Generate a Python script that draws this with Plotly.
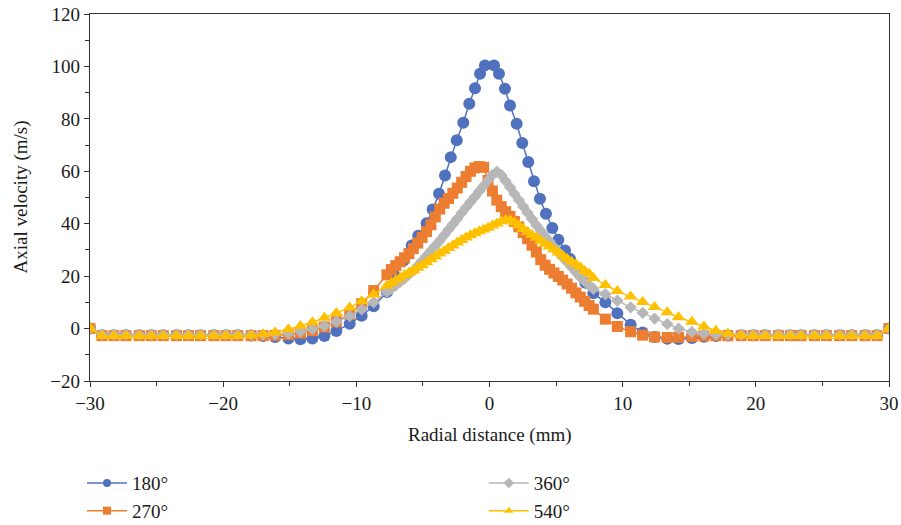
import plotly.graph_objects as go

# Radial sampling positions (mm)
x_tail_left = [-30, -29.1, -28.2, -27.3, -26.3, -25.4, -24.5, -23.5, -22.6, -21.7,
               -20.7, -19.8, -18.9, -17.9, -17.0, -16.1, -15.1, -14.2, -13.3, -12.4,
               -11.5, -10.5, -9.6, -8.7]
x_core = [-7.7, -7.37, -7.04, -6.71, -6.38, -6.05, -5.72, -5.39, -5.06, -4.73,
          -4.4, -4.07, -3.74, -3.41, -3.08, -2.75, -2.42, -2.09, -1.76, -1.43,
          -1.1, -0.77, -0.44, -0.11, 0.22, 0.55, 0.88, 1.21, 1.54, 1.87,
          2.2, 2.53, 2.86, 3.19, 3.52, 3.85, 4.18, 4.51, 4.84, 5.17,
          5.5, 5.83, 6.16, 6.49, 6.82, 7.15, 7.48]
x_tail_right = [7.8, 8.7, 9.6, 10.6, 11.5, 12.4, 13.35, 14.2, 15.2, 16.1,
                17.0, 17.9, 18.9, 19.8, 20.7, 21.7, 22.6, 23.4, 24.4, 25.3,
                26.3, 27.2, 28.2, 29.1, 30]
x_core_180 = [-7.7, -7.1, -6.45, -5.84, -5.35, -4.72, -4.27, -3.79, -3.34, -2.91,
              -2.46, -1.97, -1.52, -1.09, -0.71, -0.34, 0.34, 0.71, 1.16, 1.54,
              2.04, 2.46, 2.91, 3.34, 3.79, 4.24, 4.72, 5.17, 5.67, 6.04,
              6.6, 7.2]

# Axial velocity (m/s), 180°
v180_left = [0, -2.5, -2.5, -2.5, -2.5, -2.5, -2.5, -2.5, -2.5, -2.5,
             -2.5, -2.5, -2.5, -2.6, -2.8, -3.2, -3.8, -4.1, -3.8, -2.8,
             -0.9, 1.8, 4.9, 8.5]
v180_core = [13.9, 20.0, 26.0, 31.7, 35.4, 40.2, 45.4, 51.4, 58.4, 65.4,
             71.8, 78.5, 85.8, 91.7, 97.2, 100.4, 100.4, 97.2, 91.5, 85.1,
             78.1, 70.8, 63.5, 56.2, 49.5, 43.8, 38.4, 33.9, 29.8, 26.6,
             22.0, 17.5]
v180_right = [13.5, 10.0, 5.8, 1.5, -1.5, -3.2, -3.9, -4.0, -3.6, -3.1,
              -2.8, -2.6, -2.5, -2.5, -2.5, -2.5, -2.5, -2.5, -2.5, -2.5,
              -2.5, -2.5, -2.5, -2.5, 0]

# 270°
v270_left = [0, -2.7, -2.7, -2.7, -2.7, -2.7, -2.7, -2.7, -2.7, -2.7,
             -2.7, -2.7, -2.7, -2.7, -2.7, -2.6, -2.3, -1.7, -0.8, 0.6,
             2.6, 5.5, 9.5, 14.5]
v270_core = [20.5, 22.5, 24.0, 25.5, 27.0, 28.6, 30.5, 32.6, 34.8, 37.0,
             39.6, 42.6, 45.6, 47.8, 49.6, 51.6, 53.6, 55.8, 58.0, 60.0,
             61.3, 61.8, 61.5, 56.5, 52.5, 49.0, 46.5, 44.6, 42.8, 40.9,
             38.8, 36.6, 34.3, 31.8, 29.2, 26.3, 24.2, 22.6, 21.2, 19.9,
             18.5, 17.0, 15.4, 13.6, 12.0, 10.4, 8.8]
v270_right = [7.4, 3.6, 0.8, -1.2, -2.5, -3.2, -3.4, -3.3, -3.0, -2.8,
              -2.7, -2.7, -2.7, -2.7, -2.7, -2.7, -2.7, -2.7, -2.7, -2.7,
              -2.7, -2.7, -2.7, -2.7, 0]

# 360°
v360_left = [0, -2.3, -2.3, -2.3, -2.3, -2.3, -2.3, -2.3, -2.3, -2.3,
             -2.3, -2.3, -2.3, -2.3, -2.3, -2.2, -1.8, -1.1, -0.2, 1.0,
             2.6, 4.8, 7.3, 10.0]
v360_core = [14.0, 15.2, 16.5, 17.8, 19.1, 20.6, 22.1, 24.0, 25.9, 27.8,
             29.7, 31.6, 33.5, 35.6, 37.7, 39.8, 41.9, 44.1, 46.2, 48.3,
             50.3, 52.4, 54.5, 56.6, 58.6, 59.8, 58.6, 56.3, 53.9, 51.4,
             49.0, 46.6, 44.2, 41.8, 39.4, 37.3, 35.2, 33.2, 31.1, 29.1,
             27.2, 25.3, 23.4, 21.5, 19.6, 18.0, 16.5]
v360_right = [15.2, 13.1, 10.6, 8.1, 6.0, 3.8, 1.7, 0.0, -1.3, -2.0,
              -2.3, -2.3, -2.3, -2.3, -2.3, -2.3, -2.3, -2.3, -2.3, -2.3,
              -2.3, -2.3, -2.3, -2.3, 0]

# 540°
v540_left = [0, -2.8, -2.8, -2.8, -2.8, -2.8, -2.8, -2.8, -2.8, -2.8,
             -2.8, -2.8, -2.8, -2.6, -2.2, -1.5, -0.3, 1.0, 2.4, 4.1,
             5.9, 8.0, 10.4, 13.0]
v540_core = [16.3, 17.3, 18.4, 19.4, 20.4, 21.3, 22.2, 23.2, 24.2, 25.3,
             26.4, 27.5, 28.6, 29.6, 30.7, 31.7, 32.8, 33.8, 34.7, 35.6,
             36.4, 37.1, 37.8, 38.5, 39.3, 40.1, 40.9, 41.4, 41.3, 40.5,
             39.3, 38.0, 36.8, 35.7, 34.6, 33.5, 32.4, 31.3, 30.2, 29.0,
             27.8, 26.6, 25.5, 24.5, 23.4, 22.0, 20.9]
v540_right = [19.3, 16.6, 14.3, 12.2, 10.1, 8.2, 6.2, 4.3, 2.6, 0.8,
              -0.8, -2.0, -2.6, -2.8, -2.8, -2.8, -2.8, -2.8, -2.8, -2.8,
              -2.8, -2.8, -2.8, -2.8, 0]

series_names = ["180°", "270°", "360°", "540°"]
colors = ["#4F71BE", "#ED7D31", "#B7B7B7", "#FFC000"]
symbols = ["circle", "square", "diamond", "triangle-up"]
marker_sizes = [12, 11, 9.5, 12]
legend_ids = ["legend", "legend", "legend2", "legend2"]

x_common = x_tail_left + x_core + x_tail_right
x_180 = x_tail_left + x_core_180 + x_tail_right
series_x = [x_180, x_common, x_common, x_common]
series_y = [v180_left + v180_core + v180_right,
            v270_left + v270_core + v270_right,
            v360_left + v360_core + v360_right,
            v540_left + v540_core + v540_right]

FONT = "Liberation Serif"
FONT_SIZE = 19
AXIS_COLOR = "#333333"
TEXT_COLOR = "#1a1a1a"

fig = go.Figure()
for name, xs, ys, c, sym, ms in zip(series_names, series_x, series_y,
                                    colors, symbols, marker_sizes):
    fig.add_trace(go.Scatter(
        x=xs, y=ys, mode="lines+markers", name=name, showlegend=False,
        line=dict(color=c, width=1.5),
        marker=dict(symbol=sym, size=ms, color=c, line=dict(width=0)),
    ))

# Legend entries with smaller key markers
for name, c, sym, lg in zip(series_names, colors, symbols, legend_ids):
    fig.add_trace(go.Scatter(
        x=[None], y=[None], mode="lines+markers", name=name, legend=lg,
        line=dict(color=c, width=1.5),
        marker=dict(symbol=sym, size=8, color=c, line=dict(width=0)),
    ))

axis_common = dict(
    showline=True, mirror=True, linecolor=AXIS_COLOR, linewidth=1.3,
    ticks="outside", ticklen=5, tickwidth=1.3, tickcolor=AXIS_COLOR,
    showgrid=False, zeroline=False, automargin=False,
    tickfont=dict(family=FONT, size=FONT_SIZE, color=TEXT_COLOR),
    minor=dict(ticks="outside", ticklen=4, tickwidth=1.3, tickcolor=AXIS_COLOR,
               showgrid=False),
)

fig.update_xaxes(range=[-30, 30], dtick=10, tick0=0, minor_dtick=5, **axis_common)
fig.update_yaxes(range=[-20, 120], dtick=20, tick0=0, minor_dtick=10, **axis_common)

# Axis titles
title_font = dict(family=FONT, size=FONT_SIZE, color=TEXT_COLOR)
fig.add_annotation(text="Radial distance (mm)", xref="paper", yref="paper",
                   x=0.5, y=-0.147, xanchor="center", yanchor="middle",
                   showarrow=False, font=title_font)
fig.add_annotation(text="Axial velocity (m/s)", xref="paper", yref="paper",
                   x=-0.0876, y=0.5, xanchor="center", yanchor="middle",
                   textangle=-90, showarrow=False, font=title_font)

legend_style = dict(
    orientation="v", yanchor="top", xanchor="left",
    xref="container", yref="container",
    font=dict(family=FONT, size=FONT_SIZE, color=TEXT_COLOR),
    bgcolor="rgba(0,0,0,0)", borderwidth=0, itemsizing="trace",
    itemwidth=40,
)

fig.update_layout(
    width=901, height=525,
    margin=dict(l=90, r=12, t=14, b=144, autoexpand=False),
    paper_bgcolor="white", plot_bgcolor="white",
    font=dict(family=FONT),
    legend=dict(x=0.091, y=0.116, **legend_style),
    legend2=dict(x=0.537, y=0.116, **legend_style),
)

fig.write_html("out.html")
